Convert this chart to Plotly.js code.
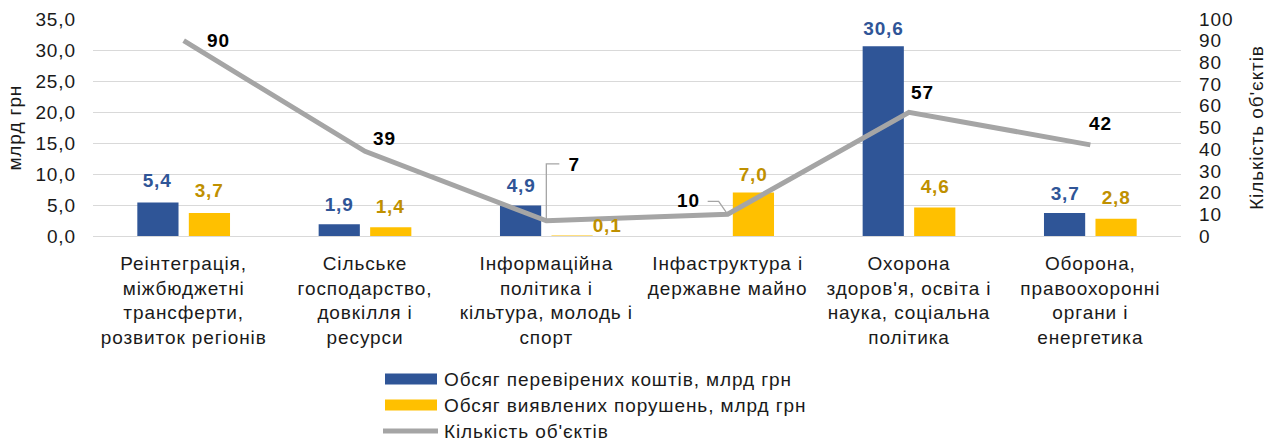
<!DOCTYPE html>
<html>
<head>
<meta charset="utf-8">
<script src="https://cdn.plot.ly/plotly-3.0.1.min.js"></script>
<style>
html,body{margin:0;padding:0;background:#fff;}
#chart{width:1272px;height:443px;}
#chart text{letter-spacing:0.9px;}
</style>
</head>
<body>
<div id="chart"></div>
<script>
// ---- data ----
const categories = [
  "Реінтеграція,<br>міжбюджетні<br>трансферти,<br>розвиток регіонів",
  "Сільське<br>господарство,<br>довкілля і<br>ресурси",
  "Інформаційна<br>політика і<br>кільтура, молодь і<br>спорт",
  "Інфаструктура і<br>державне майно",
  "Охорона<br>здоров'я, освіта і<br>наука, соціальна<br>політика",
  "Оборона,<br>правоохоронні<br>органи і<br>енергетика"
];
const checkedFunds = [5.4, 1.9, 4.9, null, 30.6, 3.7];
const violations = [3.7, 1.4, 0.1, 7.0, 4.6, 2.8];
const objectsCount = [90, 39, 7, 10, 57, 42];
const seriesNames = ["Обсяг перевірених коштів, млрд грн", "Обсяг виявлених порушень, млрд грн", "Кількість об'єктів"];
const leftAxisTitle = "млрд грн";
const rightAxisTitle = "Кількість об'єктів";

// ---- styling ----
const BLUE = "#2F5597", GOLD = "#FFC000", GOLD_TXT = "#BF9000", GREY = "#A5A5A5";
const TXT = "#1a1a1a";
const FONT = "Liberation Sans, Arial, sans-serif";
const FS = 19;
const fmt = v => v.toFixed(1).replace(".", ",");

// plot area in pixels (for legend placement)
const M = {l: 93, r: 91, t: 19, b: 207};
const W = 1272, H = 443;
const PW = W - M.l - M.r, PH = H - M.t - M.b;
const px2x = p => (p - M.l) / PW;
const px2y = p => (H - M.b - p) / PH;

// pixel offsets of the line labels (dx right, dy up) and leader paths
const lineLabelStyle = [
  {dx: 35, dy: 0},
  {dx: 19, dy: 13},
  {dx: 28, dy: 56, leader: "M0,0 L0,57 L13,57"},
  {dx: -39, dy: 14, leader: "M0,0 L-9,13 L-20,13"},
  {dx: 13, dy: 20},
  {dx: 10, dy: 21}
];
const blueLabelDy = [22, 20, 20, 20, 18, 20];
const yellowLabelDx = [0, 0, 35, 0, 0, 0];
const yellowLabelDy = [23, 21, 10, 18, 21, 21];
const BAR_OFF = 25.75;

const traces = [
  {type: "bar", x: categories, y: checkedFunds, name: seriesNames[0], marker: {color: BLUE}, showlegend: false, hoverinfo: "skip"},
  {type: "bar", x: categories, y: violations, name: seriesNames[1], marker: {color: GOLD}, showlegend: false, hoverinfo: "skip"},
  {type: "scatter", mode: "lines", x: categories, y: objectsCount, yaxis: "y2", name: seriesNames[2], line: {color: GREY, width: 5}, showlegend: false, hoverinfo: "skip"}
];

const annotations = [];
const shapes = [];
categories.forEach((c, i) => {
  if (checkedFunds[i] != null) {
    annotations.push({x: c, y: checkedFunds[i], xref: "x", yref: "y", text: "<b>" + fmt(checkedFunds[i]) + "</b>", showarrow: false,
      xshift: -BAR_OFF, yshift: blueLabelDy[i], yanchor: "middle", font: {family: FONT, size: FS, color: BLUE}});
  }
  annotations.push({x: c, y: violations[i], xref: "x", yref: "y", text: "<b>" + fmt(violations[i]) + "</b>", showarrow: false,
    xshift: BAR_OFF + yellowLabelDx[i], yshift: yellowLabelDy[i], yanchor: "middle", font: {family: FONT, size: FS, color: GOLD_TXT}});
  const s = lineLabelStyle[i];
  annotations.push({x: c, y: objectsCount[i], xref: "x", yref: "y2", text: "<b>" + objectsCount[i] + "</b>", showarrow: false,
    xshift: s.dx, yshift: s.dy, yanchor: "middle", font: {family: FONT, size: FS, color: "#000"}});
  if (s.leader) {
    shapes.push({type: "path", xref: "x", yref: "y2", xsizemode: "pixel", ysizemode: "pixel",
      xanchor: i, yanchor: objectsCount[i], path: s.leader, line: {color: GREY, width: 1.3}});
  }
});

// manual legend (wide Excel-like keys)
const legendRows = [
  {y: 379, color: BLUE, h: 11, x0: 385, x1: 437},
  {y: 405, color: GOLD, h: 11, x0: 385, x1: 437},
  {y: 431, color: GREY, h: 5, x0: 383, x1: 438}
];
legendRows.forEach((r, i) => {
  shapes.push({type: "rect", xref: "paper", yref: "paper",
    x0: px2x(r.x0), x1: px2x(r.x1), y0: px2y(r.y + r.h / 2), y1: px2y(r.y - r.h / 2),
    fillcolor: r.color, line: {width: 0}});
  annotations.push({xref: "paper", yref: "paper", x: px2x(442), y: px2y(r.y), xanchor: "left", yanchor: "middle", align: "left",
    text: seriesNames[i], showarrow: false, font: {family: FONT, size: FS, color: TXT}});
});

// left axis title
annotations.push({xref: "paper", yref: "paper", x: px2x(15), y: px2y(128), xanchor: "center", yanchor: "middle",
  textangle: -90, text: leftAxisTitle, showarrow: false, font: {family: FONT, size: FS, color: TXT}});

const layout = {
  width: W, height: H,
  margin: M,
  paper_bgcolor: "#fff", plot_bgcolor: "#fff",
  font: {family: FONT, size: FS, color: TXT},
  separators: ",.",
  barmode: "group", bargap: 0.432, bargroupgap: 0.2,
  showlegend: false,
  xaxis: {type: "category", showgrid: false, ticks: "", showline: false, ticklabelstandoff: 14,
    tickfont: {size: FS, color: TXT}, automargin: false},
  yaxis: {range: [0, 35], dtick: 5, tickformat: ".1f", showgrid: true, gridcolor: "#D9D9D9", gridwidth: 1,
    zeroline: true, zerolinecolor: "#D9D9D9", zerolinewidth: 1, ticks: "", ticklabelstandoff: 16,
    tickfont: {size: FS, color: TXT}, automargin: false},
  yaxis2: {range: [0, 100], dtick: 10, overlaying: "y", side: "right", showgrid: false, zeroline: false,
    ticks: "", ticklabelstandoff: 17, tickfont: {size: FS, color: TXT},
    title: {text: rightAxisTitle, font: {size: FS, color: TXT}, standoff: 19}, automargin: false},
  annotations: annotations,
  shapes: shapes
};

Plotly.newPlot("chart", traces, layout, {displayModeBar: false, staticPlot: true});
</script>
</body>
</html>
